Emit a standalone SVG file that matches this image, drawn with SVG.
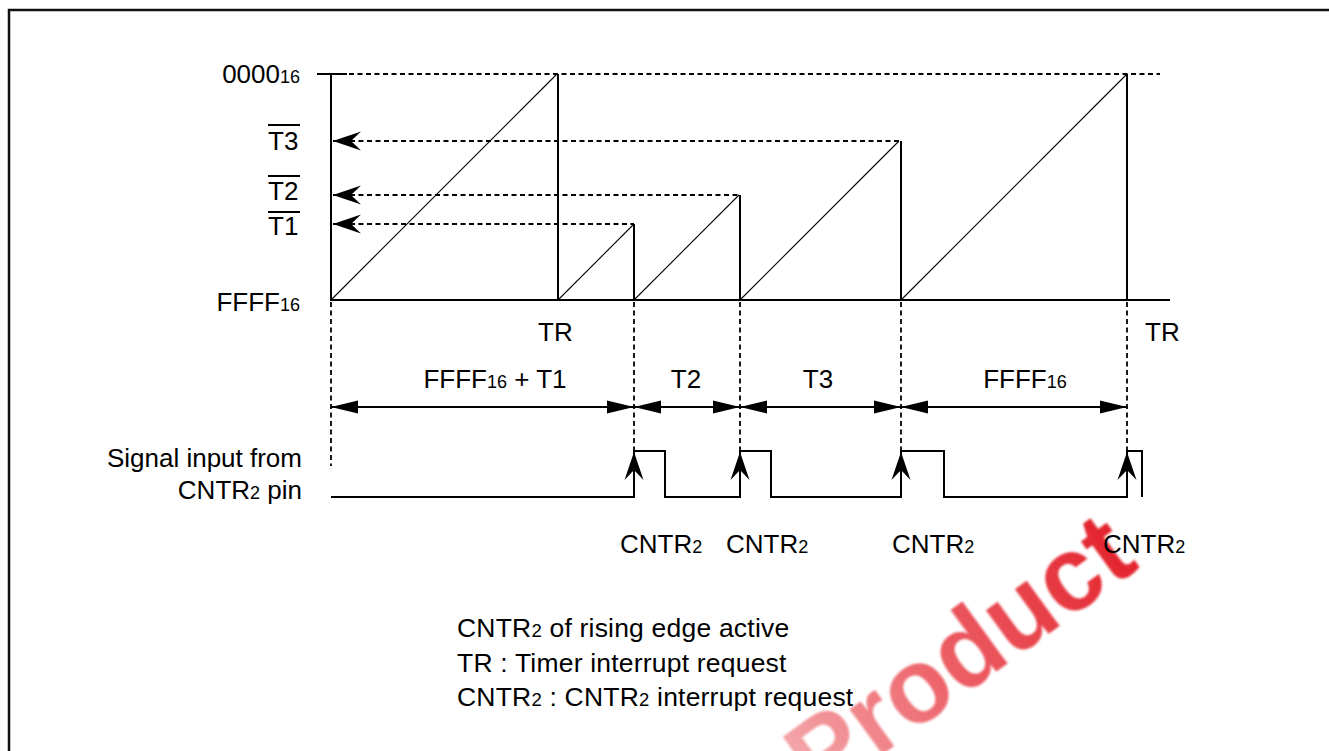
<svg xmlns="http://www.w3.org/2000/svg" width="1329" height="751" viewBox="0 0 1329 751">
<style>
text{font-family:"Liberation Sans",Arial,Helvetica,sans-serif;font-size:26px;fill:#000}
.sub{font-size:18px}
.note{font-size:26.5px;letter-spacing:0.2px}
.note .sub{font-size:18.5px}
.solid{stroke:#000;stroke-width:2;fill:none}
.thin{stroke:#000;stroke-width:1.1;fill:none}
.dash{stroke:#000;stroke-width:1.8;fill:none;stroke-dasharray:5 3.5}
.dim{stroke:#000;stroke-width:2;fill:none;marker-start:url(#tri);marker-end:url(#tri)}
.wm{font-family:"Liberation Sans",Arial,sans-serif;font-weight:bold;font-size:105px;fill:url(#wmgrad)}
</style>
<defs>
<marker id="tri" viewBox="-28 -7 29 14" refX="0" refY="0" markerWidth="29" markerHeight="14" markerUnits="userSpaceOnUse" orient="auto-start-reverse">
<path d="M0,0 L-27,-6.5 L-27,6.5 Z" fill="#000"/>
</marker>
<marker id="barb" viewBox="-28 -10 29 20" refX="0" refY="0" markerWidth="29" markerHeight="20" markerUnits="userSpaceOnUse" orient="auto-start-reverse">
<path d="M0,0 L-28,-9.5 L-18,0 L-28,9.5 Z" fill="#000"/>
</marker>
<linearGradient id="wmgrad" x1="0" y1="0" x2="1" y2="0">
<stop offset="0" stop-color="#f4a8ab"/>
<stop offset="0.45" stop-color="#ec5f66"/>
<stop offset="1" stop-color="#e3232d"/>
</linearGradient>
<filter id="soft" x="-5%" y="-5%" width="110%" height="110%">
<feGaussianBlur stdDeviation="0.8"/>
</filter>
</defs>
<rect width="1329" height="751" fill="#fff"/>

<text class="wm" filter="url(#soft)" transform="translate(820,800) rotate(-36)">Product</text>

<path d="M9,751 V10 H1329" stroke="#111" stroke-width="2.5" fill="none"/>

<g id="axis">
<path class="solid" d="M331,74 V300 H1170"/>
<path class="solid" d="M317,74 H347"/>
<path class="dash" d="M349,74 H1160"/>
</g>

<g id="labels-y">
<text x="300" y="83" text-anchor="end">0000<tspan class="sub">16</tspan></text>
<text x="268" y="150">T3</text>
<path class="solid" d="M268,125 H300" stroke-width="1.5"/>
<text x="268" y="200">T2</text>
<path class="solid" d="M268,176 H300" stroke-width="1.5"/>
<text x="268" y="235">T1</text>
<path class="solid" d="M268,212 H300" stroke-width="1.5"/>
<text x="300" y="311" text-anchor="end">FFFF<tspan class="sub">16</tspan></text>
</g>

<g id="counter">
<path class="thin" d="M331,300 L557,74"/>
<path class="solid" d="M558,74 V300"/>
<path class="thin" d="M558,300 L634,224"/>
<path class="solid" d="M634,224 V300"/>
<path class="thin" d="M634,300 L739,195"/>
<path class="solid" d="M740,195 V300"/>
<path class="thin" d="M740,300 L899,141"/>
<path class="solid" d="M901,141 V300"/>
<path class="thin" d="M901,300 L1126,75"/>
<path class="solid" d="M1127,74 V300"/>
</g>

<g id="connectors">
<path class="dash" d="M333,141 H901" style="marker-start:url(#barb)"/>
<path class="dash" d="M333,195 H740" style="marker-start:url(#barb)"/>
<path class="dash" d="M333,224 H634" style="marker-start:url(#barb)"/>
<path class="dash" d="M331,302 V466"/>
<path class="dash" d="M634,302 V451"/>
<path class="dash" d="M740,302 V451"/>
<path class="dash" d="M901,302 V451"/>
<path class="dash" d="M1127,302 V451"/>
<path class="dim" d="M331,407 H634"/>
<path class="dim" d="M634,407 H740"/>
<path class="dim" d="M740,407 H901"/>
<path class="dim" d="M901,407 H1127"/>
<path class="solid" d="M634,497 V452" style="marker-end:url(#barb)"/>
<path class="solid" d="M740,497 V452" style="marker-end:url(#barb)"/>
<path class="solid" d="M901,497 V452" style="marker-end:url(#barb)"/>
<path class="solid" d="M1127,497 V452" style="marker-end:url(#barb)"/>
</g>

<g id="signal">
<path class="solid" d="M331,497 H634 V451 H665 V497 H740 V451 H771 V497 H901 V451 H944 V497 H1127 V451 H1142 V497"/>
</g>

<g id="labels-time">
<text x="538" y="341">TR</text>
<text x="1145" y="341">TR</text>
<text x="495" y="388" text-anchor="middle">FFFF<tspan class="sub">16</tspan> + T1</text>
<text x="686" y="388" text-anchor="middle">T2</text>
<text x="818" y="388" text-anchor="middle">T3</text>
<text x="1025" y="388" text-anchor="middle">FFFF<tspan class="sub">16</tspan></text>
</g>

<g id="labels-signal">
<text x="302" y="467" text-anchor="end">Signal input from</text>
<text x="302" y="499" text-anchor="end">CNTR<tspan class="sub">2</tspan> pin</text>
<text x="620" y="553">CNTR<tspan class="sub">2</tspan></text>
<text x="726" y="553">CNTR<tspan class="sub">2</tspan></text>
<text x="892" y="553">CNTR<tspan class="sub">2</tspan></text>
<text x="1103" y="553">CNTR<tspan class="sub">2</tspan></text>
</g>

<g id="notes">
<text class="note" x="457" y="637">CNTR<tspan class="sub">2</tspan> of rising edge active</text>
<text class="note" x="457" y="672">TR : Timer interrupt request</text>
<text class="note" x="457" y="706">CNTR<tspan class="sub">2</tspan> : CNTR<tspan class="sub">2</tspan> interrupt request</text>
</g>
</svg>
